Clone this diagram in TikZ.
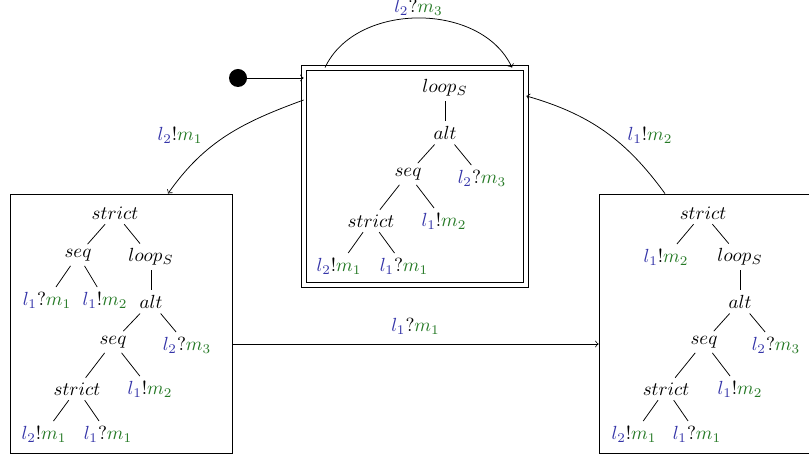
\documentclass[tikz,border=0pt]{standalone}
\usetikzlibrary{calc}
\definecolor{lcol}{RGB}{52,52,168}
\definecolor{mcol}{RGB}{38,122,38}
\newcommand{\lm}[3]{$\textcolor{lcol}{l_{#1}}#2\textcolor{mcol}{m_{#3}}$}
\begin{document}
\begin{tikzpicture}[x=0.526pt,y=-0.526pt,
  tn/.style={inner sep=2.4pt},
  tedge/.style={draw,line width=0.4pt},
  statebox/.style={draw,minimum width=222*0.526pt,minimum height=259*0.526pt,inner sep=0pt},
  initstate/.style={draw,double,double distance=1.9pt,minimum width=222*0.526pt,minimum height=217*0.526pt,inner sep=0pt},
  trans/.style={->,line width=0.4pt},
  lbl/.style={inner sep=1pt}]
\useasboundingbox (0,0) rectangle (809,457);
% boxes
\node[initstate] (cbox) at (415,176.5) {};
\node[statebox] (lbox) at (121,323.5) {};
\node[statebox] (rbox) at (710,323.5) {};
\node[circle,fill=black,minimum size=18*0.526pt,inner sep=0pt] (dot) at (238,78) {};
% central tree
\node[tn] (c1) at (445,88) {$loop_S$};
\node[tn] (c2) at (445,133) {$alt$};
\node[tn] (c3) at (408,174) {$seq$};
\node[tn] (c4) at (482,178) {\lm{2}{?}{3}};
\node[tn] (c5) at (371,221) {$strict$};
\node[tn] (c6) at (444,221) {\lm{1}{!}{2}};
\node[tn] (c7) at (339,266) {\lm{2}{!}{1}};
\node[tn] (c8) at (404,266) {\lm{1}{?}{1}};
\draw[tedge] (c1) -- (c2);
\draw[tedge] (c2) -- (c3);
\draw[tedge] (c2) -- (c4);
\draw[tedge] (c3) -- (c5);
\draw[tedge] (c3) -- (c6);
\draw[tedge] (c5) -- (c7);
\draw[tedge] (c5) -- (c8);
% left tree
\node[tn] (a1) at (115,213) {$strict$};
\node[tn] (a2) at (78,255) {$seq$};
\node[tn] (a3) at (151,257) {$loop_S$};
\node[tn] (a4) at (47,300) {\lm{1}{?}{1}};
\node[tn] (a5) at (105,300) {\lm{1}{!}{2}};
\node[tn] (a6) at (151,302) {$alt$};
\node[tn] (a7) at (113,342) {$seq$};
\node[tn] (a8) at (187,345) {\lm{2}{?}{3}};
\node[tn] (a9) at (77,389) {$strict$};
\node[tn] (a10) at (150,389) {\lm{1}{!}{2}};
\node[tn] (a11) at (44,434) {\lm{2}{!}{1}};
\node[tn] (a12) at (108,434) {\lm{1}{?}{1}};
\draw[tedge] (a1) -- (a2);
\draw[tedge] (a1) -- (a3);
\draw[tedge] (a2) -- (a4);
\draw[tedge] (a2) -- (a5);
\draw[tedge] (a3) -- (a6);
\draw[tedge] (a6) -- (a7);
\draw[tedge] (a6) -- (a8);
\draw[tedge] (a7) -- (a9);
\draw[tedge] (a7) -- (a10);
\draw[tedge] (a9) -- (a11);
\draw[tedge] (a9) -- (a12);
% right tree
\node[tn] (b1) at (703,213) {$strict$};
\node[tn] (b2) at (666,257) {\lm{1}{!}{2}};
\node[tn] (b3) at (740,257) {$loop_S$};
\node[tn] (b4) at (740,302) {$alt$};
\node[tn] (b5) at (704,342) {$seq$};
\node[tn] (b6) at (776,345) {\lm{2}{?}{3}};
\node[tn] (b7) at (666,389) {$strict$};
\node[tn] (b8) at (740,389) {\lm{1}{!}{2}};
\node[tn] (b9) at (634,434) {\lm{2}{!}{1}};
\node[tn] (b10) at (697,434) {\lm{1}{?}{1}};
\draw[tedge] (b1) -- (b2);
\draw[tedge] (b1) -- (b3);
\draw[tedge] (b3) -- (b4);
\draw[tedge] (b4) -- (b5);
\draw[tedge] (b4) -- (b6);
\draw[tedge] (b5) -- (b7);
\draw[tedge] (b5) -- (b8);
\draw[tedge] (b7) -- (b9);
\draw[tedge] (b7) -- (b10);
% transitions
\draw[trans] (dot) -- (dot -| cbox.west);
\coordinate (ts) at (cbox.north west -| 325,0);
\coordinate (te) at (cbox.north west -| 512,0);
\draw[trans] (ts) to[out=65,in=115] node[lbl,above] {\lm{2}{?}{3}} (te);
\coordinate (ls) at (cbox.west |- 0,100);
\coordinate (le) at (lbox.north west -| 168,0);
\draw[trans] (ls) to[out=200,in=55] (le);
\node[lbl] (lt) at (180,135) {\lm{2}{!}{1}};
\coordinate (rs) at (rbox.north west -| 665,0);
\coordinate (re) at (cbox.east |- 0,96);
\draw[trans] (rs) to[out=126,in=-16] (re);
\node[lbl] (rt) at (650,135) {\lm{1}{!}{2}};
\draw[trans] (lbox.east |- 0,344) -- node[lbl,above=4pt] {\lm{1}{?}{1}} (rbox.west |- 0,344);
\end{tikzpicture}
\end{document}
